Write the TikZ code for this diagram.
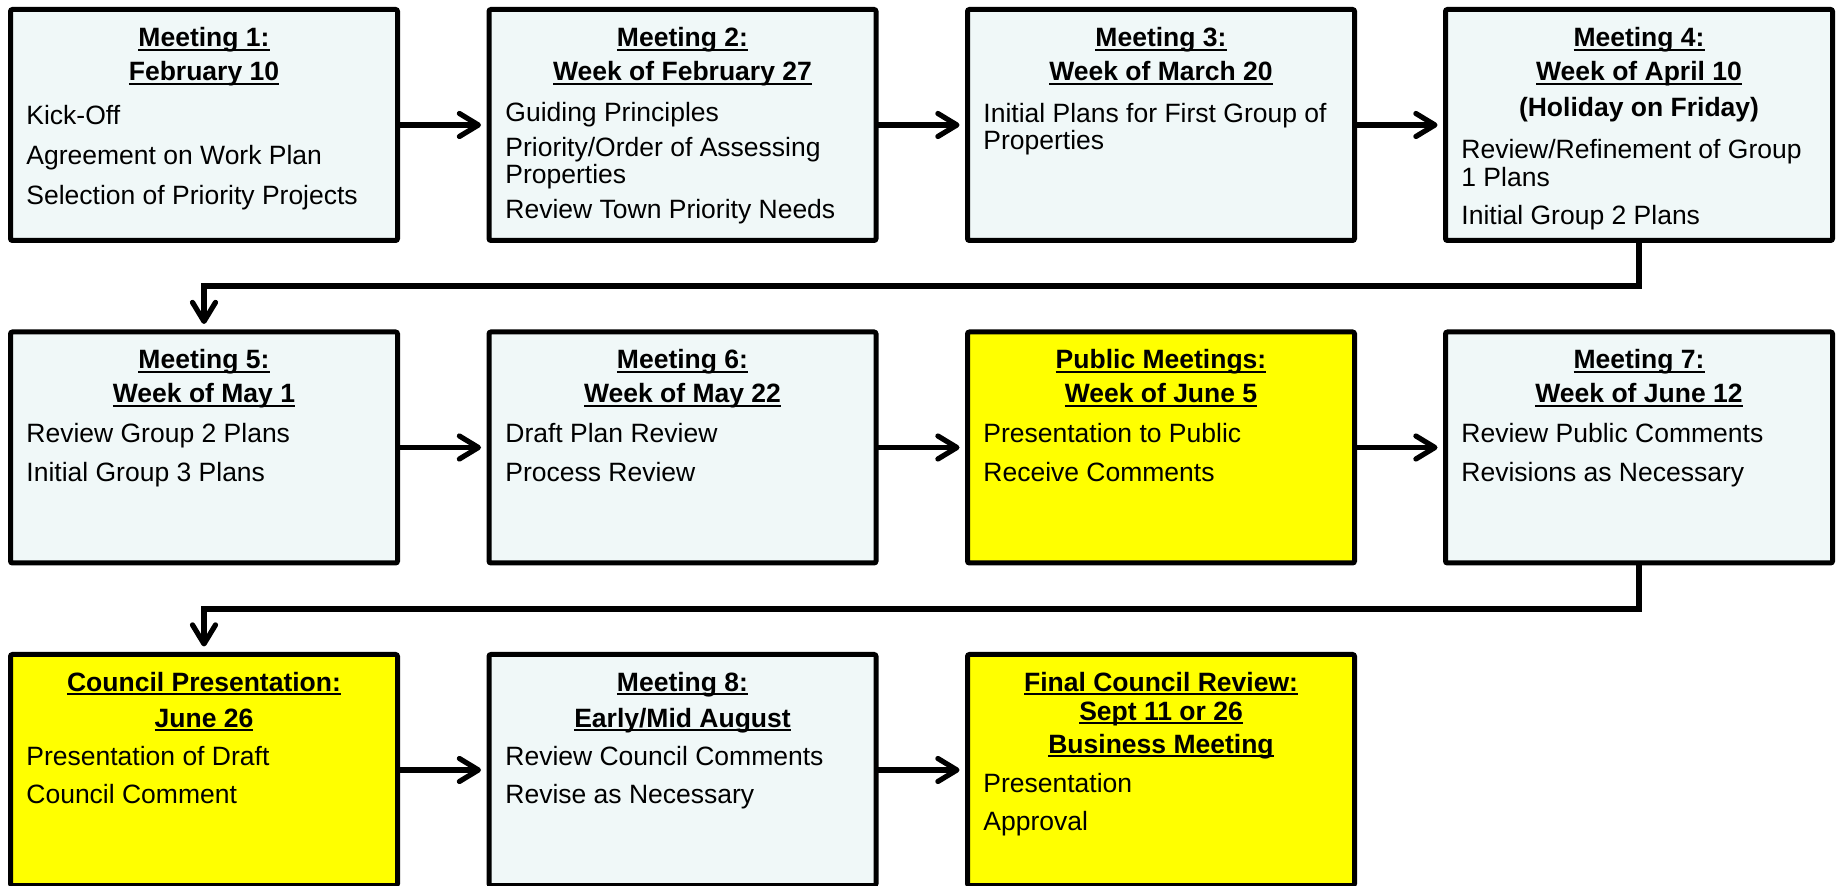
\documentclass[tikz,border=0pt]{standalone}
\usepackage{fontspec}
\setmainfont{Liberation Sans}
\usetikzlibrary{arrows.meta}
\definecolor{paleblue}{RGB}{240,248,248}
\definecolor{boxyellow}{RGB}{255,255,0}
\newsavebox\hdbox
\newcommand{\ulhd}[1]{\sbox\hdbox{#1}\rlap{\rule[-2.2pt]{\wd\hdbox}{1.2pt}}\usebox\hdbox}
\begin{document}
\begin{tikzpicture}[x=0.5pt,y=-0.5pt,
  box/.style={draw=black,line width=2.5pt,rounded corners=1pt,inner sep=0pt,outer sep=0pt,minimum width=193.5pt,minimum height=115.5pt},
  lbox/.style={box,fill=paleblue},
  ybox/.style={box,fill=boxyellow},
  hd/.style={anchor=base,inner sep=0pt,font=\fontsize{13.25}{15}\selectfont\bfseries},
  tx/.style={anchor=base west,inner sep=0pt,font=\fontsize{13.25}{15}\selectfont},
  arr/.style={line width=2.6pt,-{Straight Barb[length=9.5pt,width=11.5pt,round]},shorten >=4pt}
]
\useasboundingbox (0,0) rectangle (1841,886);
\clip (0,0) rectangle (1841,886);

% boxes
\node[lbox] (b1) at (204,125) {};
\node[lbox] (b2) at (682.5,125) {};
\node[lbox] (b3) at (1161,125) {};
\node[lbox] (b4) at (1639,125) {};
\node[lbox] (b5) at (204,447.5) {};
\node[lbox] (b6) at (682.5,447.5) {};
\node[ybox] (b7) at (1161,447.5) {};
\node[lbox] (b8) at (1639,447.5) {};
\node[ybox] (b9) at (204,770) {};
\node[lbox] (b10) at (682.5,770) {};
\node[ybox] (b11) at (1161,770) {};

% connectors
\draw[arr] (b1) -- (b2);
\draw[arr] (b2) -- (b3);
\draw[arr] (b3) -- (b4);
\coordinate (e1) at (1000,286);
\draw[arr] (b4.south) |- (e1) -| (b5.north);
\draw[arr] (b5) -- (b6);
\draw[arr] (b6) -- (b7);
\draw[arr] (b7) -- (b8);
\coordinate (e2) at (1000,609);
\draw[arr] (b8.south) |- (e2) -| (b9.north);
\draw[arr] (b9) -- (b10);
\draw[arr] (b10) -- (b11);

% box 1
\node[hd] (h1a) at (204,47) {\ulhd{Meeting 1:}};
\node[hd] (h1b) at (204,81) {\ulhd{February 10}};
\node[tx] (t1a) at (26,125) {Kick-Off};
\node[tx] (t1b) at (26,165) {Agreement on Work Plan};
\node[tx] (t1c) at (26,205) {Selection of Priority Projects};
% box 2
\node[hd] (h2a) at (682.5,47) {\ulhd{Meeting 2:}};
\node[hd] (h2b) at (682.5,81) {\ulhd{Week of February 27}};
\node[tx] (t2a) at (505,122) {Guiding Principles};
\node[tx] (t2b) at (505,157) {Priority/Order of Assessing};
\node[tx] (t2c) at (505,184) {Properties};
\node[tx] (t2d) at (505,219) {Review Town Priority Needs};
% box 3
\node[hd] (h3a) at (1161,47) {\ulhd{Meeting 3:}};
\node[hd] (h3b) at (1161,81) {\ulhd{Week of March 20}};
\node[tx] (t3a) at (983,123) {Initial Plans for First Group of};
\node[tx] (t3b) at (983,150) {Properties};
% box 4
\node[hd] (h4a) at (1639,47) {\ulhd{Meeting 4:}};
\node[hd] (h4b) at (1639,81) {\ulhd{Week of April 10}};
\node[hd] (h4c) at (1639,117) {(Holiday on Friday)};
\node[tx] (t4a) at (1461,159) {Review/Refinement of Group};
\node[tx] (t4b) at (1461,187) {1 Plans};
\node[tx] (t4c) at (1461,225) {Initial Group 2 Plans};
% box 5
\node[hd] (h5a) at (204,369) {\ulhd{Meeting 5:}};
\node[hd] (h5b) at (204,403) {\ulhd{Week of May 1}};
\node[tx] (t5a) at (26,443) {Review Group 2 Plans};
\node[tx] (t5b) at (26,482) {Initial Group 3 Plans};
% box 6
\node[hd] (h6a) at (682.5,369) {\ulhd{Meeting 6:}};
\node[hd] (h6b) at (682.5,403) {\ulhd{Week of May 22}};
\node[tx] (t6a) at (505,443) {Draft Plan Review};
\node[tx] (t6b) at (505,482) {Process Review};
% box 7
\node[hd] (h7a) at (1161,369) {\ulhd{Public Meetings:}};
\node[hd] (h7b) at (1161,403) {\ulhd{Week of June 5}};
\node[tx] (t7a) at (983,443) {Presentation to Public};
\node[tx] (t7b) at (983,482) {Receive Comments};
% box 8
\node[hd] (h8a) at (1639,369) {\ulhd{Meeting 7:}};
\node[hd] (h8b) at (1639,403) {\ulhd{Week of June 12}};
\node[tx] (t8a) at (1461,443) {Review Public Comments};
\node[tx] (t8b) at (1461,482) {Revisions as Necessary};
% box 9
\node[hd] (h9a) at (204,691) {\ulhd{Council Presentation:}};
\node[hd] (h9b) at (204,727) {\ulhd{June 26}};
\node[tx] (t9a) at (26,765) {Presentation of Draft};
\node[tx] (t9b) at (26,803) {Council Comment};
% box 10
\node[hd] (h10a) at (682.5,691) {\ulhd{Meeting 8:}};
\node[hd] (h10b) at (682.5,727) {\ulhd{Early/Mid August}};
\node[tx] (t10a) at (505,765) {Review Council Comments};
\node[tx] (t10b) at (505,803) {Revise as Necessary};
% box 11
\node[hd] (h11a) at (1161,691) {\ulhd{Final Council Review:}};
\node[hd] (h11b) at (1161,720) {\ulhd{Sept 11 or 26}};
\node[hd] (h11c) at (1161,753) {\ulhd{Business Meeting}};
\node[tx] (t11a) at (983,792) {Presentation};
\node[tx] (t11b) at (983,830) {Approval};
\end{tikzpicture}
\end{document}
